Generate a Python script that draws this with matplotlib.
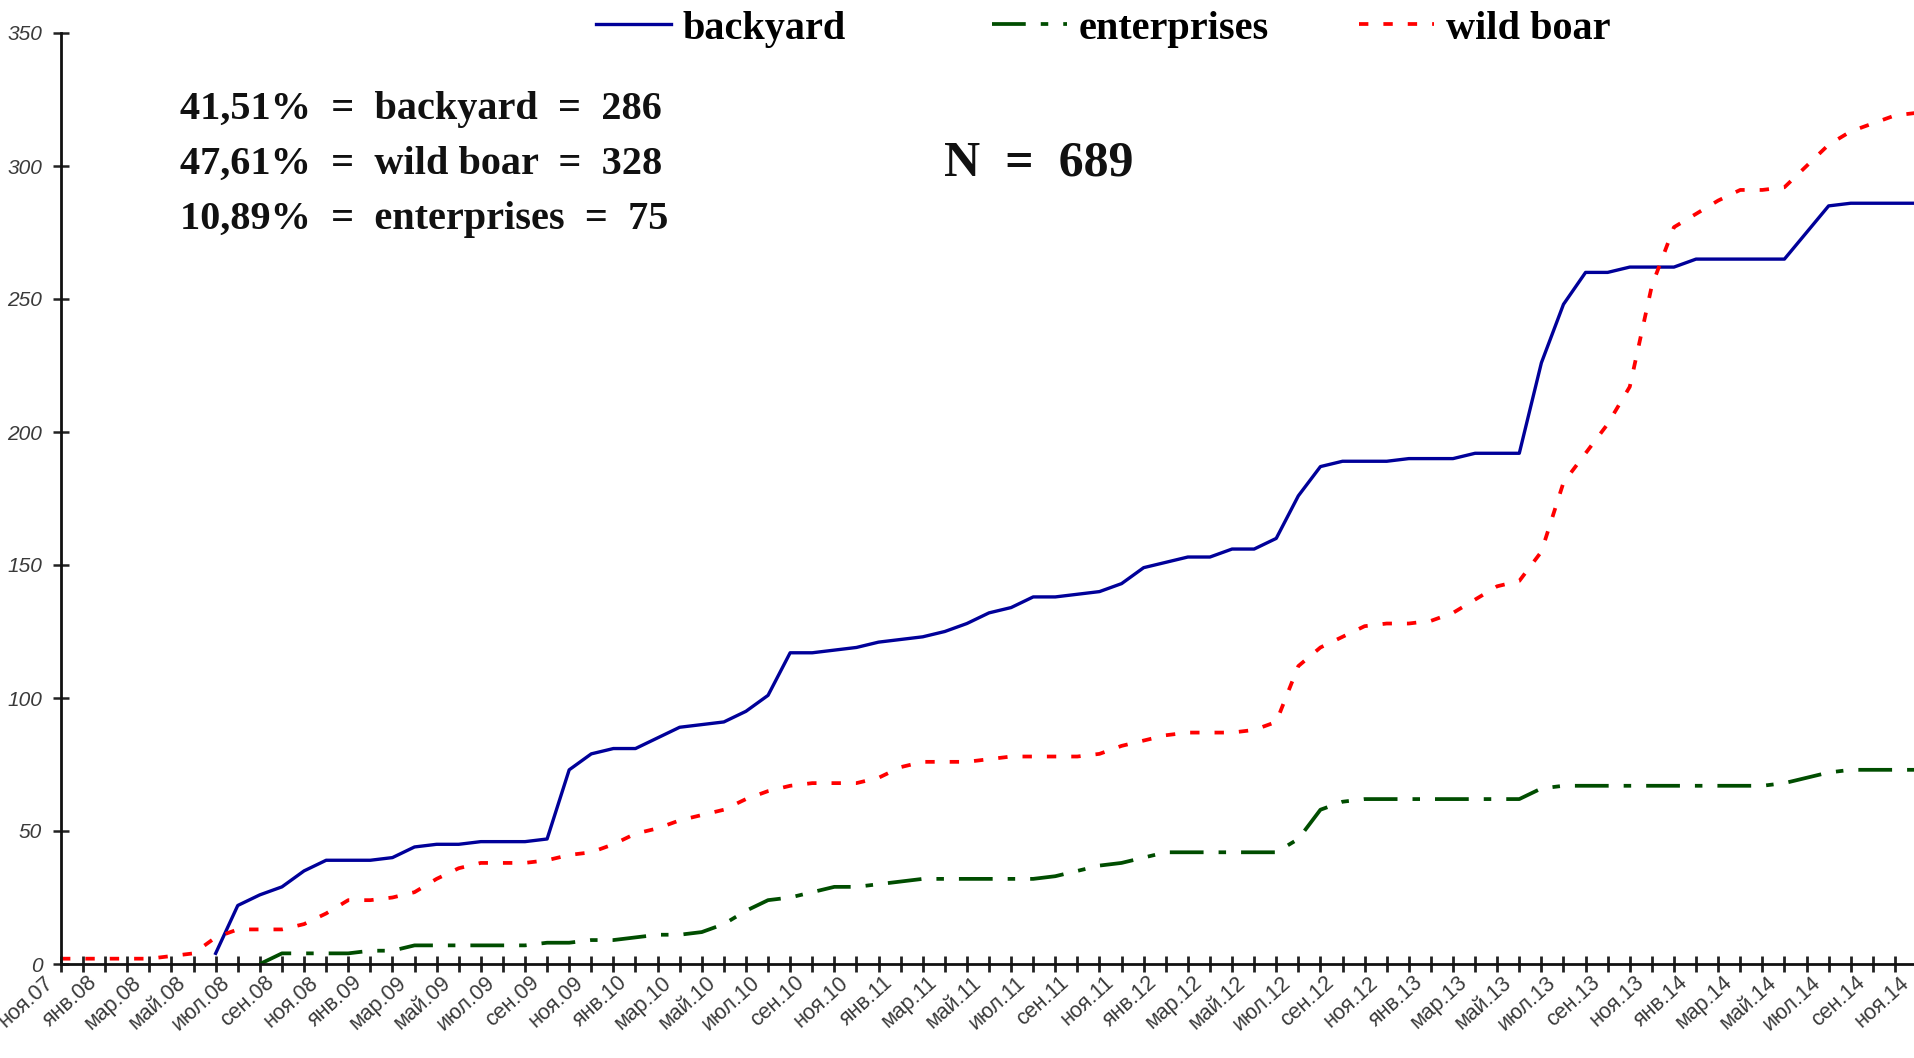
import numpy as np
import matplotlib
matplotlib.use("Agg")
import matplotlib.pyplot as plt
import matplotlib.transforms as mtransforms

# ---- data (monthly, index 0 = ноя.07) ----
x_labels = ["ноя.07", "янв.08", "мар.08", "май.08", "июл.08", "сен.08",
            "ноя.08", "янв.09", "мар.09", "май.09", "июл.09", "сен.09",
            "ноя.09", "янв.10", "мар.10", "май.10", "июл.10", "сен.10",
            "ноя.10", "янв.11", "мар.11", "май.11", "июл.11", "сен.11",
            "ноя.11", "янв.12", "мар.12", "май.12", "июл.12", "сен.12",
            "ноя.12", "янв.13", "мар.13", "май.13", "июл.13", "сен.13",
            "ноя.13", "янв.14", "мар.14", "май.14", "июл.14", "сен.14",
            "ноя.14"]

backyard_start = 7
backyard = [4, 22, 26, 29, 35, 39, 39, 39, 40, 44, 45, 45, 46, 46, 46, 47,
            73, 79, 81, 81, 85, 89, 90, 91, 95, 101, 117, 117, 118, 119, 121,
            122, 123, 125, 128, 132, 134, 138, 138, 139, 140, 143, 149, 151,
            153, 153, 156, 156, 160, 176, 187, 189, 189, 189, 190, 190, 190,
            192, 192, 192, 226, 248, 260, 260, 262, 262, 262, 265, 265, 265,
            265, 265, 275, 285, 286, 286, 286, 286]

wild_boar_start = 0
wild_boar = [2, 2, 2, 2, 2, 3, 4, 10, 13, 13, 13, 15, 19, 24, 24, 25, 27, 32,
             36, 38, 38, 38, 39, 41, 42, 45, 49, 51, 54, 56, 58, 62, 65, 67,
             68, 68, 68, 70, 74, 76, 76, 76, 77, 78, 78, 78, 78, 79, 82, 84,
             86, 87, 87, 87, 88, 91, 112, 119, 123, 127, 128, 128, 129, 132,
             137, 142, 144, 155, 181, 192, 203, 217, 255, 277, 282, 287, 291,
             291, 292, 300, 308, 313, 316, 319, 320]

enterprises_start = 9
enterprises = [0, 4, 4, 4, 4, 5, 5, 7, 7, 7, 7, 7, 7, 8, 8, 9, 9, 10, 11, 11,
               12, 15, 20, 24, 25, 27, 29, 29, 30, 31, 32, 32, 32, 32, 32, 32,
               33, 35, 37, 38, 40, 42, 42, 42, 42, 42, 42, 47, 58, 61, 62, 62,
               62, 62, 62, 62, 62, 62, 66, 67, 67, 67, 67, 67, 67, 67, 67, 67,
               67, 68, 70, 72, 73, 73, 73, 73]

annotations = ["41,51%  =  backyard  =  286",
               "47,61%  =  wild boar  =  328",
               "10,89%  =  enterprises  =  75"]
total_text = "N  =  689"

# ---- figure ----
W, H = 1915, 1058
fig = plt.figure(figsize=(W / 100, H / 100), dpi=100)
left_px, right_px, bottom_px, top_px = 61, 1917, 964, 33
ax = fig.add_axes([left_px / W, 1 - bottom_px / H,
                   (right_px - left_px) / W, (bottom_px - top_px) / H])

serif = "Liberation Serif"
sans = "Liberation Sans"

def xs(start, vals):
    return np.arange(start, start + len(vals))

lb, = ax.plot(xs(backyard_start, backyard), backyard, color="#000099",
              lw=2.4, solid_joinstyle="round", label="backyard")
le, = ax.plot(xs(enterprises_start, enterprises), enterprises, color="#004d00",
              lw=2.7, linestyle=(0, (9, 4, 2, 4)), label="enterprises")
lw_, = ax.plot(xs(wild_boar_start, wild_boar), wild_boar, color="#ff0000",
               lw=2.7, linestyle=(0, (2.5, 4)), label="wild boar")

n_months = 84
ax.set_xlim(0, n_months)
ax.set_ylim(0, 350)
label_pos = np.arange(0, n_months + 1, 2)
ax.set_xticks(label_pos)
ax.set_xticklabels([])
ax.set_xticks(np.arange(0, n_months + 1, 1), minor=True)

# x labels drawn as text anchored left of each tick (as in the reference)
offset = mtransforms.ScaledTranslation(-18 / 100, -8 / 100, fig.dpi_scale_trans)
trans = ax.get_xaxis_transform() + offset
for pos, lab in zip(label_pos, x_labels):
    ax.text(pos, 0, lab, transform=trans, rotation=42, ha="right", va="top",
            rotation_mode="anchor", fontsize=15.5, family=sans,
            color="#3a3a3a", clip_on=False)

ax.set_yticks(np.arange(0, 351, 50))
ax.set_yticklabels([str(v) for v in range(0, 351, 50)], fontsize=15,
                   family=sans, style="italic", color="#3a3a3a")

for s in ["top", "right"]:
    ax.spines[s].set_visible(False)
for s in ["left", "bottom"]:
    ax.spines[s].set_linewidth(2.0)
    ax.spines[s].set_color("#111111")

ax.tick_params(axis="x", which="both", direction="inout", length=11,
               width=2.0, color="#222222", pad=4)
ax.tick_params(axis="y", direction="inout", length=11, width=1.8,
               color="#222222", pad=8)

# annotation text
ys = [109, 164, 220]
for t, yp in zip(annotations, ys):
    fig.text(180 / W, 1 - yp / H, t, ha="left", va="center", fontsize=29,
             family=serif, weight="bold", color="#111111")
fig.text(944 / W, 1 - 164 / H, total_text, ha="left", va="center",
         fontsize=36, family=serif, weight="bold", color="#111111")

# legend: one entry per box, placed like the reference
leg_x = [596, 992, 1359]
for h, xp in zip([lb, le, lw_], leg_x):
    fig.legend(handles=[h], loc="center left",
               bbox_to_anchor=(xp / W, 1 - 29 / H), frameon=False,
               handlelength=1.85, handletextpad=0.3, borderpad=0,
               borderaxespad=0,
               prop={"family": serif, "weight": "bold", "size": 29})

fig.savefig("out.png", dpi=100)
